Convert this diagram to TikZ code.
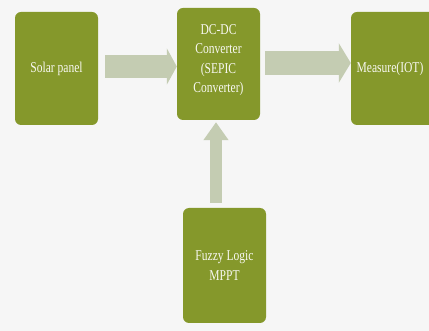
\documentclass[tikz,border=0pt]{standalone}
\usepackage{fontspec}
\setmainfont{Liberation Serif}[FakeStretch=0.77]
\usetikzlibrary{arrows.meta}
\definecolor{boxgreen}{HTML}{85982B}
\definecolor{arrowsage}{HTML}{C4CCB2}
\definecolor{paper}{HTML}{F6F6F6}
\definecolor{boxtext}{HTML}{F8F8F2}
\tikzset{
  block/.style={fill=boxgreen, rounded corners=6pt, text=boxtext,
    align=center, inner sep=2pt, font=\fontsize{15}{19.5}\selectfont},
  flow/.style={draw=arrowsage, line cap=butt}
}
\begin{document}
\begin{tikzpicture}[x=1pt, y=-1pt]
  \fill[paper] (0,0) rectangle (429,331);
  \useasboundingbox (0,0) rectangle (429,331);
  \clip (0,0) rectangle (429,331);

  \node[block, minimum width=83pt, minimum height=113pt] (solar) at (56.5,68.5) {Solar panel};
  \node[block, minimum width=83pt, minimum height=112pt] (conv) at (218.5,64) {DC-DC\\Converter\\(SEPIC\\Converter)\\[-9pt]};
  \node[block, minimum width=84pt, minimum height=113pt] (meas) at (393,68.5) {\hspace*{-6pt}Measure(IOT)};
  \node[block, minimum width=83pt, minimum height=115pt] (fuzzy) at (224.5,265.5) {Fuzzy Logic\\MPPT};

  % block arrows between the stages
  \draw[flow, line width=23pt, -{Triangle[length=10pt, width=36pt]}]
    ([xshift=7pt, yshift=2pt]solar.east) -- ([yshift=2pt]solar.east -| conv.west);
  \draw[flow, line width=24pt, -{Triangle[length=12pt, width=39pt]}]
    ([xshift=5pt, yshift=1pt]conv.east) -- ([yshift=1pt]conv.east -| meas.west);
  \draw[flow, line width=12pt, -{Triangle[length=18pt, width=24pt]}]
    ([xshift=-2.5pt, yshift=5pt]fuzzy.north -| conv.south) -- ([xshift=-2.5pt, yshift=-2pt]conv.south);
\end{tikzpicture}
\end{document}
